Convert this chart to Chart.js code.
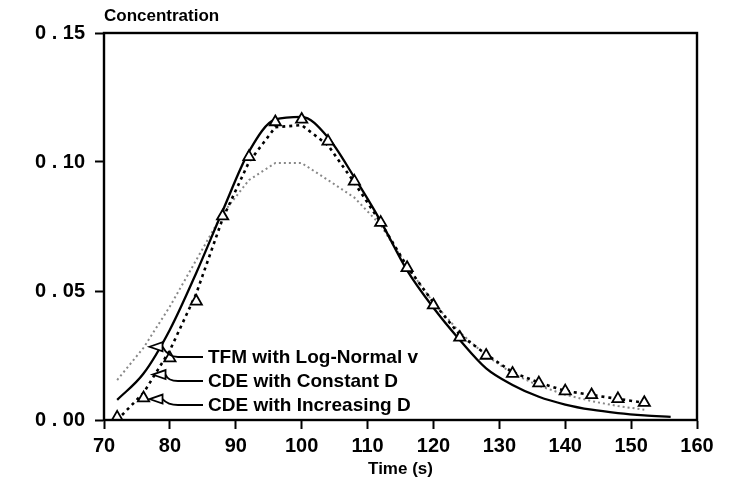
<!DOCTYPE html>
<html>
<head>
<meta charset="utf-8">
<script src="https://cdn.jsdelivr.net/npm/chart.js@4"></script>
<style>
  html, body { margin: 0; padding: 0; background: #fff; }
  #wrap { width: 733px; height: 483px; }
</style>
</head>
<body>
<div id="wrap"><canvas id="chart" width="733" height="483"></canvas></div>
<script>
// sampling times (s)
const times = [72, 76, 80, 84, 88, 92, 96, 100, 104, 108, 112, 116, 120, 124, 128, 132, 136, 140, 144, 148, 152];
const longTimes = [72, 76, 80, 84, 88, 92, 96, 100, 104, 108, 112, 116, 120, 124, 128, 132, 136, 140, 144, 148, 152, 156];

// measured concentration (triangles)
const observed = [0.001, 0.0085, 0.024, 0.046, 0.079, 0.102, 0.1155, 0.1165, 0.108, 0.0925, 0.0765, 0.059, 0.0445, 0.032, 0.025, 0.018, 0.0143, 0.0112, 0.0097, 0.0082, 0.0067];
// model curves
const cdeIncreasing = [0.0, 0.0105, 0.027, 0.049, 0.078, 0.100, 0.1135, 0.1143, 0.1065, 0.092, 0.0765, 0.0595, 0.0455, 0.033, 0.0255, 0.0185, 0.0145, 0.0113, 0.0097, 0.0082, 0.0067];
const cdeConstant = [0.0078, 0.018, 0.035, 0.057, 0.081, 0.104, 0.1165, 0.1175, 0.1095, 0.094, 0.077, 0.058, 0.0435, 0.031, 0.020, 0.0136, 0.009, 0.006, 0.004, 0.0027, 0.0018, 0.0012];
const tfmLogNormal = [0.0155, 0.028, 0.044, 0.062, 0.080, 0.093, 0.0996, 0.0996, 0.093, 0.0862, 0.0755, 0.0595, 0.0455, 0.034, 0.025, 0.018, 0.0133, 0.0098, 0.0073, 0.0054, 0.004];

const xTicks = [70, 80, 90, 100, 110, 120, 130, 140, 150, 160];
const yTicks = [0, 0.05, 0.10, 0.15];

const legendLabels = ['TFM with Log-Normal v', 'CDE with Constant D', 'CDE with Increasing D'];

const FONT = '"Liberation Sans", Arial, sans-serif';

const pts = (xs, ys) => ys.map((v, i) => ({ x: xs[i], y: v }));

// text labels with leader arrows pointing at their curves
const leaders = [
  { text: legendLabels[0], ds: 3, idx: 1, dx: 6, dy: -1, row: 63 },
  { text: legendLabels[1], ds: 2, idx: 1, dx: 9, dy: 1, row: 39 },
  { text: legendLabels[2], ds: 0, idx: 1, dx: 6, dy: 1, row: 15 }
];

const decorations = {
  id: 'decorations',
  afterDatasetsDraw(chart) {
    const { ctx, chartArea: a } = chart;
    ctx.save();
    ctx.strokeStyle = '#000';
    ctx.fillStyle = '#000';
    ctx.lineWidth = 2.4;
    ctx.strokeRect(a.left, a.top, a.right - a.left, a.bottom - a.top);

    ctx.font = 'bold 17px ' + FONT;
    ctx.textBaseline = 'alphabetic';
    ctx.textAlign = 'left';
    ctx.fillText('Concentration', a.left, a.top - 12);

    ctx.font = 'bold 19px ' + FONT;
    ctx.textBaseline = 'middle';
    ctx.lineWidth = 1.8;
    leaders.forEach(l => {
      const el = chart.getDatasetMeta(l.ds).data[l.idx];
      const tx = el.x + l.dx, ty = el.y + l.dy;
      const textX = a.left + 104, textY = a.bottom - l.row;
      // open arrowhead
      ctx.beginPath();
      ctx.moveTo(tx, ty);
      ctx.lineTo(tx + 13, ty - 4.5);
      ctx.lineTo(tx + 13, ty + 4.5);
      ctx.closePath();
      ctx.fillStyle = '#fff';
      ctx.fill();
      ctx.stroke();
      // leader line
      ctx.beginPath();
      ctx.moveTo(tx + 13, ty);
      ctx.quadraticCurveTo(textX - 40, textY, textX - 30, textY);
      ctx.lineTo(textX - 5, textY);
      ctx.stroke();
      ctx.fillStyle = '#000';
      ctx.fillText(l.text, textX, textY + 1);
    });
    ctx.restore();
  }
};

new Chart(document.getElementById('chart'), {
  type: 'line',
  data: {
    datasets: [
      {
        label: 'Observed',
        data: pts(times, observed),
        showLine: false,
        pointStyle: 'triangle',
        pointRadius: 6.5,
        pointBorderWidth: 1.8,
        pointBorderColor: '#000',
        pointBackgroundColor: '#fff'
      },
      {
        label: legendLabels[2],
        data: pts(times, cdeIncreasing),
        borderColor: '#000',
        borderWidth: 2.6,
        borderDash: [3, 4],
        pointRadius: 0,
        tension: 0
      },
      {
        label: legendLabels[1],
        data: pts(longTimes, cdeConstant),
        borderColor: '#000',
        borderWidth: 2.3,
        pointRadius: 0,
        cubicInterpolationMode: 'monotone'
      },
      {
        label: legendLabels[0],
        data: pts(times, tfmLogNormal),
        borderColor: '#888',
        borderWidth: 2,
        borderDash: [2, 3],
        pointRadius: 0,
        tension: 0
      }
    ]
  },
  options: {
    responsive: false,
    animation: false,
    devicePixelRatio: 1,
    layout: { padding: { top: 33, right: 36, left: 0, bottom: 0 } },
    plugins: { legend: { display: false }, tooltip: { enabled: false } },
    scales: {
      x: {
        type: 'linear',
        min: xTicks[0],
        max: xTicks[xTicks.length - 1],
        afterBuildTicks: s => { s.ticks = xTicks.map(v => ({ value: v })); },
        afterFit: s => { s.height = 63; },
        grid: { drawOnChartArea: false, drawTicks: true, tickLength: 9, tickColor: '#000', tickWidth: 2 },
        border: { display: true, color: '#000', width: 2 },
        ticks: { color: '#000', padding: 5, font: { family: FONT, size: 20, weight: 'bold' } },
        title: {
          display: true,
          text: 'Time (s)',
          color: '#000',
          padding: { top: 0, bottom: 3 },
          font: { family: FONT, size: 17, weight: 'bold' }
        }
      },
      y: {
        min: yTicks[0],
        max: yTicks[yTicks.length - 1],
        afterBuildTicks: s => { s.ticks = yTicks.map(v => ({ value: v })); },
        afterFit: s => { s.width = 104; },
        grid: { drawOnChartArea: false, drawTicks: true, tickLength: 9, tickColor: '#000', tickWidth: 2 },
        border: { display: true, color: '#000', width: 2 },
        ticks: {
          color: '#000',
          padding: 10,
          font: { family: FONT, size: 20, weight: 'bold' },
          callback: v => v.toFixed(2).replace('.', ' . ')
        }
      }
    }
  },
  plugins: [decorations]
});
</script>
</body>
</html>
